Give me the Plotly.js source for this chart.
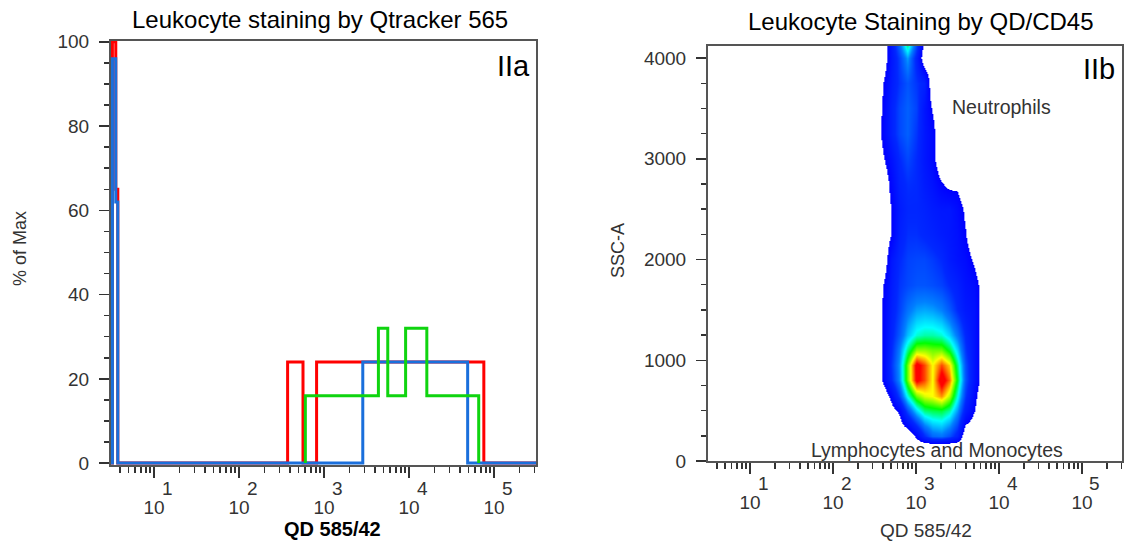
<!DOCTYPE html>
<html>
<head>
<meta charset="utf-8">
<script src="https://cdn.plot.ly/plotly-3.0.1.min.js"></script>
<style>html,body{margin:0;padding:0;background:#fff;}#chart{width:1130px;height:542px;}</style>
</head>
<body>
<div id="chart"></div>
<script>
// ---------- Panel IIa : histogram overlays (QD 585/42 fluorescence, % of Max) ----------
const redX   = [3.0, 3.24, 3.55, 3.75, 373, 566, 818, 75900, 340000];
const redY   = [0, 100, 65, 0, 24, 0, 24, 0, 0];
const blueX  = [3.0, 3.24, 3.55, 3.75, 2858, 48980, 340000];
const blueY  = [0, 96, 62, 0, 24, 0, 0];
const greenX = [603, 603, 4365, 5623, 9120, 16200, 66070];
const greenY = [0, 16, 32, 16, 32, 16, 0];

// ---------- Panel IIb : density plot (QD 585/42 vs SSC-A) ----------
const densityLogX = [2.5, 2.6, 2.7, 2.8, 2.9, 3.0, 3.1, 3.2, 3.3, 3.4, 3.5, 3.6, 3.7, 3.8, 3.9];
const densityY = [0, 150, 250, 500, 650, 800, 950, 1100, 1250, 1500, 1750, 2000, 2250, 2500, 2750, 3000, 3250, 3500, 3750, 4000, 4250];
const densityZ = [
  [0,0,0,0,0,0,0,0,0,0,0,0,0,0,0],
  [0,0,0,0,0,0,0,0,0,0,0,0,0,0,0],
  [0,0,0,0,0,12.5,28,38,40,34,24,0,0,0,0],
  [0,0,5,12,33,50,60,62,63,58,44,22,10,0,0],
  [0,0,14,32,55,72,78,80,86,76,55,30,14,0,0],
  [0,11,28,44,72,96,90,80,99,88,64,35,18,5,0],
  [0,11,30,45,72,97,90,80,90,82,60,34,18,5,0],
  [0,11,28,42,60,74,74,72,72,64,50,30,18,5,0],
  [0,11,26,36,48,56,58,58,56,50,40,27,18,5,0],
  [0,11,24,32,40,45,46,45,42,36,28,21,17.5,5,0],
  [0,9,22,30,33,35,35,34,32,28,24,18,15,5,0],
  [0,0,20,28,32,33,33,31,28,22,18,15,8,0,0],
  [0,0,10.5,24,29,29,27,25,22,20,17,10.5,0,0,0],
  [0,0,10.5,22,27,27,25,22,20,20,15,8,0,0,0],
  [0,0,14,25,29,28,22,18,11,7,8,0,0,0,0],
  [0,8,18,28,33,28,20,14,0,0,0,0,0,0,0],
  [0,12.5,25,33,37,30,20,14,0,0,0,0,0,0,0],
  [0,11,25,33,37,32,19,9,0,0,0,0,0,0,0],
  [0,9,22,30,35,30,25,0,0,0,0,0,0,0,0],
  [0,0,20,32,45,25,0,0,0,0,0,0,0,0,0],
  [0,0,22,45,75,40,10,0,0,0,0,0,0,0,0]
];

// ---------- Axis tick labels (decade base "10" and its exponent) ----------
const decadeVals = [10, 100, 1000, 10000, 100000];
const decadeBase = ['10', '10', '10', '10', '10'];
const decadeExp  = ['1', '2', '3', '4', '5'];

const minorLog = [];
for (let e = 0; e <= 5; e++) for (let m = 2; m <= 9; m++) minorLog.push(m * Math.pow(10, e));

const heatX = densityLogX.map(v => Math.pow(10, v));

const FONT = 'Liberation Sans, Arial, sans-serif';
const TXT = '#333333';

const traces = [
  {x: redX, y: redY, type: 'scatter', mode: 'lines', line: {color: '#ff0000', width: 3, shape: 'hv'}, xaxis: 'x', yaxis: 'y', hoverinfo: 'skip'},
  {x: blueX, y: blueY, type: 'scatter', mode: 'lines', line: {color: '#1a6fdc', width: 3, shape: 'hv'}, xaxis: 'x', yaxis: 'y', hoverinfo: 'skip'},
  {x: greenX, y: greenY, type: 'scatter', mode: 'lines', line: {color: '#0fd40f', width: 3, shape: 'hv'}, xaxis: 'x', yaxis: 'y', hoverinfo: 'skip'},
  {x: heatX, y: densityY, z: densityZ, type: 'heatmap', xaxis: 'x2', yaxis: 'y2', zsmooth: 'best',
   zmin: 0, zmax: 100, showscale: false, hoverinfo: 'skip',
   colorscale: [[0, '#ffffff'], [0.0999, '#ffffff'], [0.1, '#0000ff'], [0.28, '#0028ff'], [0.42, '#0080ff'],
                [0.54, '#00ffff'], [0.66, '#00ff00'], [0.8, '#ffff00'], [0.94, '#ff0000'], [1, '#ff0000']]}
];

function xAxis(domain, range, anchor, standoff) {
  return {
    type: 'log', domain: domain, range: range, anchor: anchor,
    tickmode: 'array', tickvals: decadeVals, ticktext: decadeBase,
    ticks: 'outside', ticklen: 11, tickwidth: 1.5, tickcolor: '#333',
    ticklabelstandoff: standoff,
    tickfont: {family: FONT, size: 19, color: TXT},
    minor: {tickmode: 'array', tickvals: minorLog, ticks: 'outside', ticklen: 6, tickwidth: 1.5, tickcolor: '#333', showgrid: false},
    showline: true, linecolor: '#555', linewidth: 2, mirror: true,
    showgrid: false, zeroline: false, fixedrange: true
  };
}
function yAxis(domain, range, dtick, minorDtick, anchor) {
  return {
    domain: domain, range: range, anchor: anchor,
    tickmode: 'linear', tick0: 0, dtick: dtick,
    ticks: 'outside', ticklen: 10, tickwidth: 1.5, tickcolor: '#333',
    ticklabelstandoff: 6,
    tickfont: {family: FONT, size: 19, color: TXT},
    minor: {tickmode: 'linear', tick0: 0, dtick: minorDtick, ticks: 'outside', ticklen: 5, tickwidth: 1.5, tickcolor: '#333', showgrid: false},
    showline: true, linecolor: '#555', linewidth: 2, mirror: true,
    showgrid: false, zeroline: false, fixedrange: true
  };
}

// exponent of each decade label, placed at the decade on the axis and nudged right/up
const expAnnotations = [];
[['x', 1 - 488/542], ['x2', 1 - 483/542]].forEach(([ax, yy]) => {
  decadeVals.forEach((v, i) => {
    expAnnotations.push({text: decadeExp[i], xref: ax, yref: 'paper', x: Math.log10(v), y: yy,
      xshift: 13, xanchor: 'center', yanchor: 'middle', showarrow: false,
      font: {family: FONT, size: 19, color: TXT}});
  });
});

const layout = {
  width: 1130, height: 542,
  margin: {l: 0, r: 0, t: 0, b: 0},
  paper_bgcolor: '#ffffff', plot_bgcolor: '#ffffff',
  showlegend: false,
  font: {family: FONT, color: TXT},
  xaxis: xAxis([111/1130, 536/1130], [0.494, 5.494], 'y', 13),
  yaxis: yAxis([1 - 465/542, 1 - 41/542], [-0.45, 100.2], 20, 5, 'x'),
  xaxis2: xAxis([708/1130, 1122/1130], [0.494, 5.482], 'y2', 12),
  yaxis2: yAxis([1 - 461/542, 1 - 46/542], [0, 4120], 1000, 250, 'x2'),
  annotations: [
    {text: 'Leukocyte staining by Qtracker 565', xref: 'paper', yref: 'paper', x: 320/1130, y: 1 - 20/542,
     xanchor: 'center', yanchor: 'middle', showarrow: false, font: {family: FONT, size: 24, color: '#000'}},
    {text: 'Leukocyte Staining by QD/CD45', xref: 'paper', yref: 'paper', x: 921/1130, y: 1 - 21/542,
     xanchor: 'center', yanchor: 'middle', showarrow: false, font: {family: FONT, size: 24, color: '#000'}},
    {text: 'IIa', xref: 'paper', yref: 'paper', x: 513/1130, y: 1 - 66/542,
     xanchor: 'center', yanchor: 'middle', showarrow: false, font: {family: FONT, size: 29, color: '#000'}},
    {text: 'IIb', xref: 'paper', yref: 'paper', x: 1099/1130, y: 1 - 69.5/542,
     xanchor: 'center', yanchor: 'middle', showarrow: false, font: {family: FONT, size: 29, color: '#000'}},
    {text: '% of Max', xref: 'paper', yref: 'paper', x: 20/1130, y: 1 - 249/542, textangle: -90,
     xanchor: 'center', yanchor: 'middle', showarrow: false, font: {family: FONT, size: 18, color: TXT}},
    {text: '<b>QD 585/42</b>', xref: 'paper', yref: 'paper', x: 332/1130, y: 1 - 529/542,
     xanchor: 'center', yanchor: 'middle', showarrow: false, font: {family: FONT, size: 20, color: '#000'}},
    {text: 'SSC-A', xref: 'paper', yref: 'paper', x: 618/1130, y: 1 - 251/542, textangle: -90,
     xanchor: 'center', yanchor: 'middle', showarrow: false, font: {family: FONT, size: 18, color: TXT}},
    {text: 'QD 585/42', xref: 'paper', yref: 'paper', x: 926/1130, y: 1 - 530/542,
     xanchor: 'center', yanchor: 'middle', showarrow: false, font: {family: FONT, size: 19, color: TXT}},
    {text: 'Neutrophils', xref: 'x2 domain', yref: 'y2 domain', x: 0.708, y: 0.853,
     xanchor: 'center', yanchor: 'middle', showarrow: false, font: {family: FONT, size: 19.5, color: TXT}},
    {text: 'Lymphocytes and Monocytes', xref: 'x2 domain', yref: 'y2 domain', x: 0.553, y: 0.0265,
     xanchor: 'center', yanchor: 'middle', showarrow: false, font: {family: FONT, size: 19.5, color: TXT}}
  ].concat(expAnnotations)
};

Plotly.newPlot('chart', traces, layout, {displayModeBar: false, staticPlot: true});
</script>
</body>
</html>
